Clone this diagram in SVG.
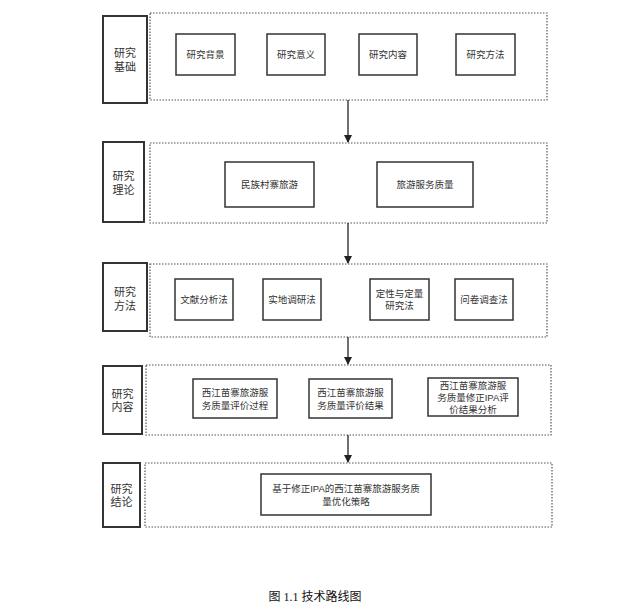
<svg xmlns="http://www.w3.org/2000/svg" width="635" height="615" viewBox="0 0 635 615">
<defs>
<marker id="ah" markerWidth="8" markerHeight="8" refX="7" refY="4" orient="auto" markerUnits="userSpaceOnUse"><path d="M0,0 L8,4 L0,8 z" fill="#222"/></marker>
<style>
.lab{fill:#fff;stroke:#333;stroke-width:2}
.grp{fill:none;stroke:#555;stroke-width:1.2;stroke-dasharray:1.5 1.5}
.box{fill:#fff;stroke:#333;stroke-width:1.5}
text{font-family:"Liberation Sans","Noto Sans CJK SC",sans-serif;fill:#333;text-anchor:middle}
.l{font-size:11px}
.t{font-size:9.5px}
.c{font-family:"Liberation Serif","Noto Sans CJK SC",serif;font-size:12px;fill:#111}
.conn{stroke:#222;stroke-width:1.3;fill:none;marker-end:url(#ah)}
</style>
</defs>
<rect width="635" height="615" fill="#fff"/>
<g id="row1">
<rect class="lab" x="103" y="16" width="44" height="87"/><text class="l" x="125" y="57">研究</text><text class="l" x="125" y="71">基础</text>
<rect class="grp" x="150" y="13" width="397" height="87"/>
<rect class="box" x="176" y="34" width="59" height="41"/><text class="t" x="205.5" y="58">研究背景</text>
<rect class="box" x="267" y="34" width="58" height="41"/><text class="t" x="296" y="58">研究意义</text>
<rect class="box" x="359" y="34" width="58" height="41"/><text class="t" x="388" y="58">研究内容</text>
<rect class="box" x="456" y="34" width="59" height="41"/><text class="t" x="485.5" y="58">研究方法</text>
</g>
<g id="row2">
<rect class="lab" x="103" y="142" width="41" height="80"/><text class="l" x="123.5" y="180">研究</text><text class="l" x="123.5" y="194">理论</text>
<rect class="grp" x="150" y="143" width="397" height="80"/>
<rect class="box" x="225" y="162" width="89" height="45"/><text class="t" x="269.5" y="188">民族村寨旅游</text>
<rect class="box" x="377" y="162" width="96" height="45"/><text class="t" x="425" y="188">旅游服务质量</text>
</g>
<g id="row3">
<rect class="lab" x="103" y="263" width="44" height="68"/><text class="l" x="125" y="296">研究</text><text class="l" x="125" y="310">方法</text>
<rect class="grp" x="150" y="264" width="397" height="73"/>
<rect class="box" x="175" y="279" width="58" height="41"/><text class="t" x="204" y="303">文献分析法</text>
<rect class="box" x="263" y="279" width="58" height="41"/><text class="t" x="292" y="303">实地调研法</text>
<rect class="box" x="370" y="279" width="59" height="41"/><text class="t" x="399.5" y="297">定性与定量</text><text class="t" x="399.5" y="309">研究法</text>
<rect class="box" x="455" y="279" width="58" height="41"/><text class="t" x="484" y="303">问卷调查法</text>
</g>
<g id="row4">
<rect class="lab" x="103" y="366" width="39" height="68"/><text class="l" x="122.5" y="398">研究</text><text class="l" x="122.5" y="411">内容</text>
<rect class="grp" x="146" y="365" width="405" height="70"/>
<rect class="box" x="193" y="379" width="84" height="39"/><text class="t" x="235" y="396">西江苗寨旅游服</text><text class="t" x="235" y="409">务质量评价过程</text>
<rect class="box" x="309" y="379" width="83" height="39"/><text class="t" x="350.5" y="396">西江苗寨旅游服</text><text class="t" x="350.5" y="409">务质量评价结果</text>
<rect class="box" x="428" y="378" width="90" height="38"/><text class="t" x="473" y="389">西江苗寨旅游服</text><text class="t" x="473" y="401">务质量修正IPA评</text><text class="t" x="473" y="413">价结果分析</text>
</g>
<g id="row5">
<rect class="lab" x="103" y="463" width="37" height="64"/><text class="l" x="121.5" y="493">研究</text><text class="l" x="121.5" y="506">结论</text>
<rect class="grp" x="145" y="463" width="407" height="64"/>
<rect class="box" x="261" y="474" width="170" height="41"/><text class="t" x="346" y="492">基于修正IPA的西江苗寨旅游服务质</text><text class="t" x="346" y="505">量优化策略</text>
</g>
<g id="connectors">
<line class="conn" x1="348" y1="100" x2="348" y2="142"/>
<line class="conn" x1="348" y1="223" x2="348" y2="263"/>
<line class="conn" x1="348" y1="337" x2="348" y2="364"/>
<line class="conn" x1="348" y1="435" x2="348" y2="462"/>
</g>
<text class="c" x="315" y="601">图 1.1 技术路线图</text>
</svg>
